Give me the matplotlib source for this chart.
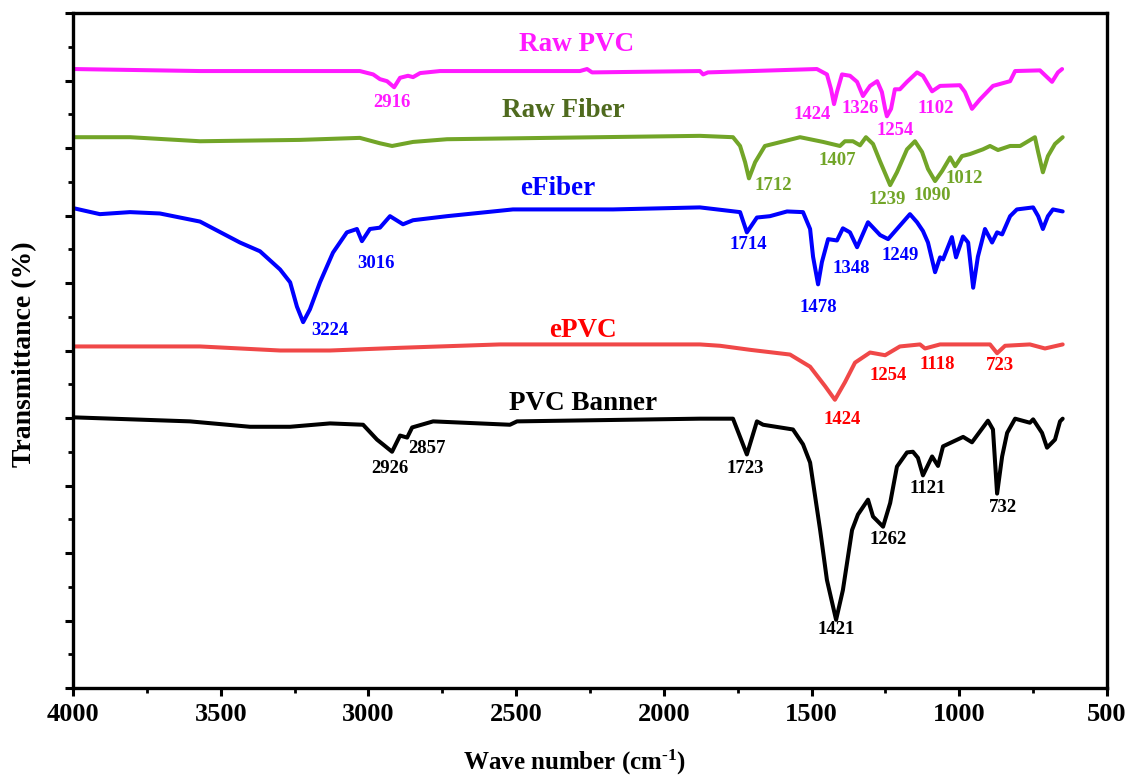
import matplotlib.pyplot as plt
from matplotlib.ticker import MultipleLocator, NullFormatter

plt.rcParams['font.family'] = ['Liberation Serif', 'DejaVu Serif']
plt.rcParams['font.weight'] = 'bold'
plt.rcParams['mathtext.fontset'] = 'custom'
plt.rcParams['mathtext.rm'] = 'Liberation Serif:bold'
plt.rcParams['mathtext.default'] = 'rm'

# spectra: wavenumber (cm-1) and transmittance (arb. %)
pvc_raw_x = [4000, 3570, 3029, 2984, 2961, 2937, 2913, 2893, 2866, 2849, 2825, 2758, 2284, 2260, 2243,
             1878, 1867, 1851, 1482, 1448, 1434, 1424, 1414, 1397, 1370, 1346, 1326, 1302, 1278, 1262,
             1251, 1245, 1231, 1218, 1201, 1177, 1143, 1123, 1092, 1065, 998, 981, 957, 930, 886, 828,
             811, 727, 703, 686, 666, 652]
pvc_raw_y = [91.7, 91.4, 91.4, 90.9, 90.2, 89.9, 89.0, 90.4, 90.7, 90.5, 91.1, 91.4, 91.4, 91.7, 91.2,
             91.4, 90.9, 91.2, 91.7, 90.9, 88.7, 86.5, 88.3, 90.9, 90.7, 89.8, 87.7, 89.2, 89.9, 88.3,
             85.8, 84.7, 85.8, 88.7, 88.7, 89.8, 91.2, 90.7, 88.4, 89.2, 89.3, 88.3, 85.8, 87.2, 89.2, 89.9,
             91.4, 91.5, 90.5, 89.8, 91.2, 91.7]

fiber_raw_x = [4000, 3807, 3570, 3232, 3029, 2961, 2920, 2849, 2734, 1878, 1766, 1742, 1725, 1712, 1691,
               1658, 1539, 1461, 1404, 1387, 1360, 1336, 1316, 1292, 1268, 1234, 1211, 1177, 1150, 1126,
               1106, 1082, 1058, 1031, 1014, 991, 964, 920, 896, 869, 828, 794, 744, 733, 717, 700, 676, 650]
fiber_raw_y = [81.6, 81.6, 81.0, 81.2, 81.5, 80.7, 80.3, 80.9, 81.3, 81.8, 81.6, 80.3, 77.9, 75.5, 77.9,
               80.3, 81.6, 80.9, 80.3, 81.0, 81.0, 80.4, 81.6, 80.6, 78.0, 74.5, 76.4, 79.8, 81.0, 79.4,
               76.9, 75.1, 76.6, 78.6, 77.3, 78.8, 79.1, 79.8, 80.3, 79.7, 80.3, 80.3, 81.6, 79.4, 76.4,
               78.8, 80.6, 81.6]

efiber_x = [4000, 3909, 3807, 3706, 3570, 3435, 3367, 3299, 3265, 3242, 3221, 3198, 3164, 3120, 3073,
            3039, 3022, 2995, 2961, 2927, 2883, 2849, 2734, 2511, 2172, 1878, 1742, 1719, 1685, 1641,
            1583, 1529, 1505, 1495, 1478, 1465, 1444, 1414, 1394, 1370, 1346, 1309, 1268, 1241, 1167,
            1143, 1123, 1106, 1082, 1065, 1055, 1025, 1011, 987, 970, 953, 937, 913, 889, 872, 855, 828,
            805, 750, 733, 717, 700, 683, 650]
efiber_y = [71.1, 70.2, 70.5, 70.3, 69.1, 66.0, 64.7, 62.0, 60.1, 56.5, 54.2, 56.1, 60.1, 64.5, 67.5,
            68.0, 66.2, 68.0, 68.2, 69.9, 68.7, 69.3, 69.9, 70.9, 70.9, 71.2, 70.5, 67.5, 69.7, 69.9,
            70.6, 70.5, 68.0, 63.9, 59.8, 63.1, 66.5, 66.3, 68.1, 67.5, 65.3, 69.0, 67.1, 66.5, 70.2,
            69.0, 67.7, 66.0, 61.6, 63.8, 63.5, 66.8, 63.8, 66.9, 66.0, 59.3, 63.9, 68.0, 66.0, 67.5,
            67.2, 69.9, 70.9, 71.2, 69.9, 68.0, 69.9, 70.9, 70.6]

epvc_x = [4000, 3570, 3299, 3130, 2893, 2555, 1878, 1810, 1708, 1573, 1505, 1454, 1421, 1387, 1353,
          1302, 1251, 1201, 1133, 1116, 1065, 896, 872, 845, 761, 710, 650]
epvc_y = [50.6, 50.6, 50.0, 50.0, 50.4, 50.9, 50.9, 50.7, 50.1, 49.4, 47.6, 44.7, 42.7, 45.3, 48.2,
          49.7, 49.3, 50.6, 50.9, 50.3, 50.9, 50.9, 49.6, 50.7, 50.9, 50.3, 50.9]

banner_x = [4000, 3604, 3401, 3265, 3130, 3018, 2971, 2951, 2920, 2893, 2869, 2852, 2781, 2521, 2497,
            1878, 1766, 1719, 1685, 1664, 1563, 1529, 1505, 1471, 1448, 1417, 1394, 1363, 1343, 1309,
            1292, 1258, 1234, 1211, 1177, 1157, 1140, 1123, 1092, 1072, 1055, 987, 957, 903, 886, 872,
            855, 838, 811, 761, 750, 720, 703, 676, 659, 650]
banner_y = [40.1, 39.5, 38.7, 38.7, 39.2, 39.0, 36.8, 36.1, 35.0, 37.4, 37.1, 38.6, 39.5, 39.0, 39.5,
            39.9, 39.9, 34.6, 39.5, 39.0, 38.3, 36.1, 33.4, 23.4, 16.0, 10.1, 14.5, 23.4, 25.7, 27.9,
            25.4, 23.9, 27.4, 32.8, 34.9, 35.0, 34.1, 31.5, 34.3, 32.9, 35.8, 37.2, 36.4, 39.6, 38.3, 28.8,
            34.3, 37.8, 39.9, 39.3, 39.8, 37.8, 35.6, 36.8, 39.5, 39.9]

# peak labels: text, wavenumber, transmittance
pvc_raw_peaks = [('2916', 2920, 86.8), ('1424', 1498, 85.0), ('1326', 1336, 85.8),
                 ('1254', 1218, 82.6), ('1102', 1079, 85.8)]
fiber_raw_peaks = [('1712', 1630, 74.5), ('1407', 1414, 78.2), ('1239', 1245, 72.4),
                   ('1090', 1092, 73.0), ('1012', 984, 75.5)]
efiber_peaks = [('3224', 3130, 53.0), ('3016', 2974, 62.9), ('1714', 1715, 65.7),
                ('1478', 1478, 56.4), ('1348', 1366, 62.2), ('1249', 1201, 64.1)]
epvc_peaks = [('1424', 1397, 39.8), ('1254', 1241, 46.3), ('1118', 1075, 47.9), ('723', 862, 47.8)]
banner_peaks = [('2926', 2927, 32.5), ('2857', 2802, 35.5), ('1723', 1725, 32.5), ('1421', 1417, 8.6),
                ('1262', 1241, 22.0), ('1121', 1106, 29.5), ('732', 852, 26.7)]

series = [
    # name, x, y, line colour, name colour, peak colour, name position, peaks
    ('Raw PVC', pvc_raw_x, pvc_raw_y, '#FF1AFF', '#FF1AFF', '#FF1AFF', (2297, 95.4), pvc_raw_peaks),
    ('Raw Fiber', fiber_raw_x, fiber_raw_y, '#72A528', '#4F6A1E', '#72A528', (2341, 85.6), fiber_raw_peaks),
    ('eFiber', efiber_x, efiber_y, '#0000FF', '#0000FF', '#0000FF', (2358, 74.0), efiber_peaks),
    ('ePVC', epvc_x, epvc_y, '#F04848', '#FF0000', '#FF0000', (2274, 53.0), epvc_peaks),
    ('PVC Banner', banner_x, banner_y, '#000000', '#000000', '#000000', (2274, 42.1), banner_peaks),
]

fig = plt.figure(figsize=(11.35, 7.78), dpi=100)
ax = fig.add_axes([73 / 1135, 1 - 688 / 778, 1034 / 1135, 675 / 778])

for name, xs, ys, lc, nc, pc, npos, peaks in series:
    ax.plot(xs, ys, color=lc, lw=2.9, solid_joinstyle='round', solid_capstyle='round')
    ax.text(npos[0], npos[1], name, color=nc, fontsize=19.5, fontweight='bold',
            ha='center', va='center')
    for lab, px, py in peaks:
        ax.text(px, py, lab, color=pc, fontsize=13.5, fontweight='bold', ha='center', va='center')

ax.set_xlim(4000, 500)
ax.set_ylim(0, 100)
ax.xaxis.set_major_locator(MultipleLocator(500))
ax.xaxis.set_minor_locator(MultipleLocator(250))
ax.yaxis.set_major_locator(MultipleLocator(10))
ax.yaxis.set_minor_locator(MultipleLocator(5))
ax.yaxis.set_major_formatter(NullFormatter())

for sp in ax.spines.values():
    sp.set_linewidth(2.4)
ax.tick_params(which='major', direction='out', length=6, width=2.2, labelsize=19, pad=5)
ax.tick_params(which='minor', direction='out', length=3.5, width=2.0)
ax.tick_params(top=False, right=False, which='both')
for t in ax.get_xticklabels():
    t.set_fontweight('bold')

ax.set_xlabel(r'Wave number (cm$^{\text{-1}}$)', fontsize=18, fontweight='bold')
ax.xaxis.set_label_coords(0.4855, -0.0885)
ax.set_ylabel('Transmittance (%)', fontsize=20, fontweight='bold')
ax.yaxis.set_label_coords(-0.035, 0.495)

fig.savefig('out.png', dpi=100)
